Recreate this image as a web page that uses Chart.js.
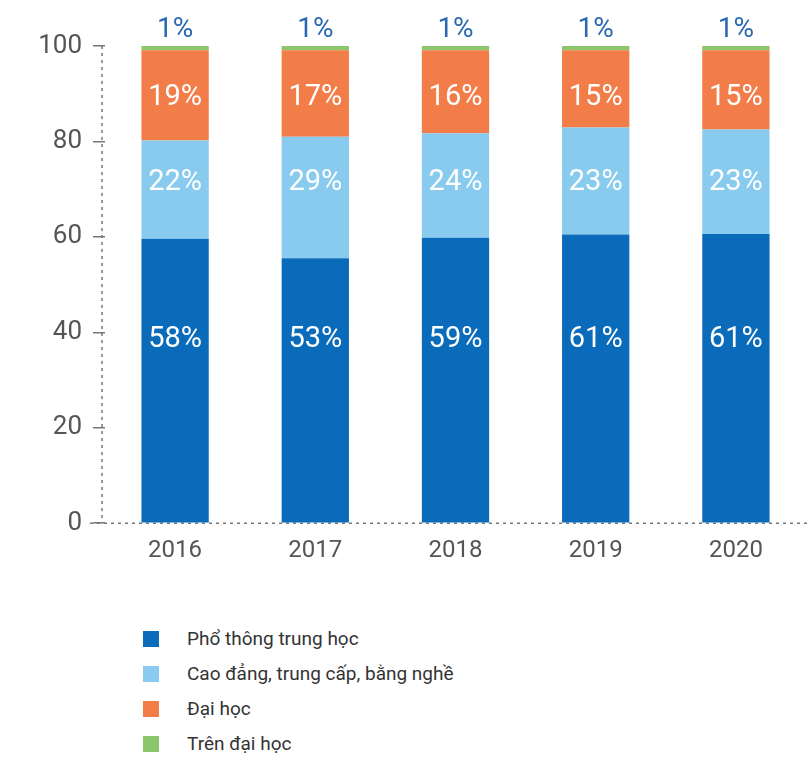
<!DOCTYPE html>
<html>
<head>
<meta charset="utf-8">
<script src="https://cdn.jsdelivr.net/npm/chart.js@4"></script>
<style>
  html, body { margin: 0; padding: 0; background: #fff; }
  #wrap { position: relative; width: 811px; height: 759px; }
  #chart { position: absolute; left: 0; top: 0; }
  #legend { position: absolute; left: 143px; top: 621px; font-family: Roboto, sans-serif;
            font-size: 19px; color: #333; }
  .item { display: flex; align-items: center; height: 35px; }
  .box { width: 16px; height: 16px; margin-right: 28px; }
</style>
</head>
<body>
<div id="wrap">
  <canvas id="chart" width="811" height="582"></canvas>
  <div id="legend"></div>
</div>
<script>
"use strict";

/* ── Data (bar heights, printed labels separately) ── */
const years = ["2016", "2017", "2018", "2019", "2020"];
const seriesNames = ["Phổ thông trung học", "Cao đẳng, trung cấp, bằng nghề", "Đại học", "Trên đại học"];
const phoThong   = [59.6, 55.5, 59.8, 60.5, 60.6];
const caoDang    = [20.6, 25.5, 21.9, 22.4, 21.9];
const daiHoc     = [18.9, 18.1, 17.4, 16.2, 16.6];
const trenDaiHoc = [0.9, 0.9, 0.9, 0.9, 0.9];
const phoThongPct   = [58, 53, 59, 61, 61];
const caoDangPct    = [22, 29, 24, 23, 23];
const daiHocPct     = [19, 17, 16, 15, 15];
const trenDaiHocPct = [1, 1, 1, 1, 1];
const yTicks = [0, 20, 40, 60, 80, 100];

const COLORS = ["#0a6bbb", "#88cbee", "#f27d48", "#8cc66c"];
const FONT = "Roboto, sans-serif";
const AXIS = "#777";

/* ── Dotted axis lines (Chart.js border.dash only affects grid lines) ──── */
const dottedAxes = {
  id: "dottedAxes",
  beforeDatasetsDraw(chart) {
    const { ctx, chartArea: a } = chart;
    ctx.save();
    ctx.strokeStyle = AXIS;
    ctx.lineWidth = 1.5;
    ctx.setLineDash([3, 4]);
    ctx.beginPath();
    ctx.moveTo(a.left - 3, a.top);
    ctx.lineTo(a.left - 3, a.bottom);
    ctx.moveTo(a.left - 15, a.bottom);
    ctx.lineTo(chart.width, a.bottom);
    ctx.stroke();
    ctx.restore();
  },
};

/* ── Segment labels: fixed rows for inner labels, top label above bar ──── */
const labelRows = [38.4, 71.4, 89.2];   // value positions used by the source layout
const segLabels = {
  id: "segLabels",
  afterDatasetsDraw(chart) {
    const ctx = chart.ctx;
    const pcts = [phoThongPct, caoDangPct, daiHocPct, trenDaiHocPct];
    const y = chart.scales.y;
    ctx.save();
    ctx.textAlign = "center";
    ctx.textBaseline = "middle";
    chart.data.datasets.forEach((ds, di) => {
      chart.getDatasetMeta(di).data.forEach((bar, i) => {
        const txt = pcts[di][i] + "%";
        if (di < 3) {
          ctx.fillStyle = "#ffffff";
          ctx.font = "29px " + FONT;
          ctx.fillText(txt, bar.x, y.getPixelForValue(labelRows[di]));
        } else {
          ctx.fillStyle = "#2a69b0";
          ctx.font = "28px " + FONT;
          ctx.fillText(txt, bar.x, bar.y - 16);
        }
      });
    });
    ctx.restore();
  },
};

const datasets = [phoThong, caoDang, daiHoc, trenDaiHoc].map((vals, i) => ({
  label: seriesNames[i],
  data: vals,
  backgroundColor: COLORS[i],
  borderWidth: 0,
  categoryPercentage: 1,
  barPercentage: 0.48,
}));

new Chart(document.getElementById("chart"), {
  type: "bar",
  data: { labels: years, datasets },
  plugins: [dottedAxes, segLabels],
  options: {
    responsive: false,
    animation: false,
    layout: { padding: { top: 46, right: 5, left: 0, bottom: 4 } },
    plugins: { legend: { display: false }, tooltip: { enabled: false } },
    scales: {
      x: {
        stacked: true,
        grid: { display: false, drawTicks: false },
        border: { display: false },
        ticks: { color: "#555", font: { family: FONT, size: 24 }, padding: 13 },
      },
      y: {
        stacked: true,
        min: 0, max: 100,
        afterBuildTicks: (s) => { s.ticks = yTicks.map(v => ({ value: v })); },
        afterFit: (s) => { s.width = 105; },
        grid: { drawOnChartArea: false, drawTicks: true, tickLength: 12, tickColor: AXIS, lineWidth: 1.5 },
        border: { display: false },
        ticks: { color: "#555", font: { family: FONT, size: 26 }, padding: 11 },
      },
    },
  },
});

/* ── HTML legend built from the same names/colours ─────────────────────── */
const legend = document.getElementById("legend");
seriesNames.forEach((name, i) => {
  const row = document.createElement("div");
  row.className = "item";
  row.innerHTML = `<span class="box" style="background:${COLORS[i]}"></span><span>${name}</span>`;
  legend.appendChild(row);
});
</script>
</body>
</html>
